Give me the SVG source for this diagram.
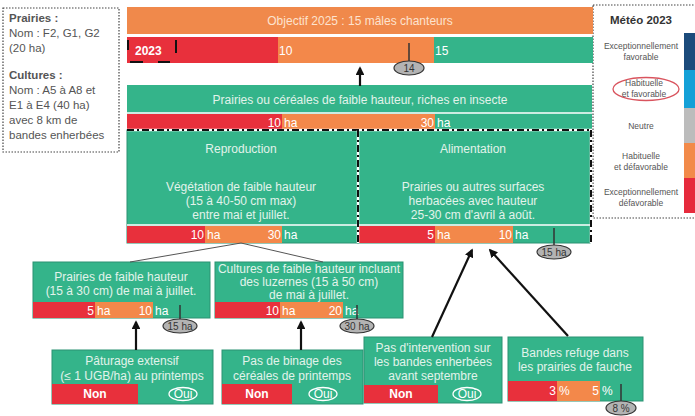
<svg xmlns="http://www.w3.org/2000/svg" width="695" height="416" viewBox="0 0 695 416">
<defs>
<marker id="ah" viewBox="0 0 10 10" refX="8" refY="5" markerWidth="4" markerHeight="4" orient="auto-start-reverse">
<path d="M0,0 L10,5 L0,10 z" fill="#111"/>
</marker>
</defs>
<style>
text{font-family:"Liberation Sans",Arial,sans-serif}
.lt{fill:#e2f3eb;font-size:12px}
.w{fill:#fff;font-size:12px}
.g{fill:#34b48a}
.bx{fill:#34b48a;stroke:#2a9272;stroke-width:1}
.o{fill:#f3884a}
.r{fill:#e8303c}
.sep{stroke:#fff;stroke-width:1.5}
.pill{fill:#b3b3b3;stroke:#333;stroke-width:1.2}
.pt{font-size:10px;fill:#333;text-anchor:middle}
.tick{stroke:#333;stroke-width:1.5}
.oui{fill:none;stroke:#fff;stroke-width:1.3}
.arr{stroke:#111;stroke-width:2.2;fill:none;marker-end:url(#ah)}
.thin{stroke:#555;stroke-width:1}
.dd{stroke:#111;stroke-width:2;stroke-dasharray:7 3 2 3;fill:none}
.ddw{stroke:#fff;stroke-width:2.5;fill:none}
.m{text-anchor:middle}
.e{text-anchor:end}
.lg{font-size:8.5px;fill:#555;text-anchor:middle}
.lb{font-size:11.5px;fill:#555}
</style>

<g id="info">
<rect x="3" y="8" width="116" height="144" fill="#fff" stroke="#444" stroke-width="1.2" stroke-dasharray="1.5 1.5"/>
<text x="9" y="22" class="lb" font-weight="bold">Prairies :</text>
<text x="9" y="37" class="lb">Nom : F2, G1, G2</text>
<text x="9" y="52" class="lb">(20 ha)</text>
<text x="9" y="79" class="lb" font-weight="bold">Cultures :</text>
<text x="9" y="94" class="lb">Nom : A5 à A8 et</text>
<text x="9" y="109" class="lb">E1 à E4 (40 ha)</text>
<text x="9" y="124" class="lb">avec 8 km de</text>
<text x="9" y="139" class="lb">bandes enherbées</text>
</g>

<g id="legende">
<rect x="593" y="5" width="106" height="213" fill="#fff" stroke="#444" stroke-width="1.2" stroke-dasharray="1.5 1.5"/>
<text x="641" y="24" class="m" font-size="11.5" font-weight="bold" fill="#333">Météo 2023</text>
<rect x="684" y="33" width="11" height="37" fill="#1b4b7b"/>
<rect x="684" y="70" width="11" height="38" fill="#14a0d7"/>
<rect x="684" y="108" width="11" height="35" fill="#bcbcbc"/>
<rect x="684" y="143" width="11" height="35" fill="#f28a4a"/>
<rect x="684" y="178" width="11" height="35" fill="#e62a3c"/>
<text x="641" y="49" class="lg">Exceptionnellement</text>
<text x="641" y="60" class="lg">favorable</text>
<ellipse cx="646" cy="89" rx="33" ry="11.5" fill="none" stroke="#d9545e" stroke-width="1.3"/>
<text x="644" y="86" class="lg">Habituelle</text>
<text x="644" y="97" class="lg">et favorable</text>
<text x="641" y="129" class="lg">Neutre</text>
<text x="641" y="159" class="lg">Habituelle</text>
<text x="641" y="170" class="lg">et défavorable</text>
<text x="641" y="195" class="lg">Exceptionnellement</text>
<text x="641" y="206" class="lg">défavorable</text>
</g>

<g id="objectif">
<rect x="127" y="7" width="466" height="27" fill="#f0894b"/>
<text x="360" y="25" class="m" font-size="12" fill="#fde3cf">Objectif 2025 : 15 mâles chanteurs</text>
<rect x="127" y="37" width="151" height="26" class="r"/>
<rect x="278" y="37" width="156" height="26" class="o"/>
<rect x="434" y="37" width="159" height="26" class="g"/>
<text x="135" y="55" class="w" font-weight="bold">2023</text>
<text x="279" y="55" class="w">10</text>
<text x="435" y="55" class="w">15</text>
<line x1="128" y1="40" x2="128" y2="50" stroke="#111" stroke-width="2"/>
<line x1="176" y1="40" x2="176" y2="53" stroke="#111" stroke-width="2"/>
<line x1="130" y1="62" x2="143" y2="62" stroke="#111" stroke-width="2"/>
<line x1="158" y1="62" x2="170" y2="62" stroke="#111" stroke-width="2"/>
<line x1="409" y1="43" x2="409" y2="61" class="tick"/>
<ellipse cx="409" cy="68" rx="15" ry="7" class="pill"/>
<text x="409" y="72" class="pt">14</text>
</g>

<g id="prairies-cereales">
<rect x="127" y="85" width="465" height="45" class="g"/>
<text x="360" y="104" class="lt m" font-size="11.5">Prairies ou céréales de faible hauteur, riches en insecte</text>
<line x1="127" y1="113" x2="592" y2="113" class="sep"/>
<rect x="127" y="114" width="155" height="16" class="r"/>
<rect x="282" y="114" width="153" height="16" class="o"/>
<text x="281" y="127" class="w e">10</text>
<text x="284" y="127" class="w">ha</text>
<text x="434" y="127" class="w e">30</text>
<text x="437" y="127" class="w">ha</text>
</g>

<g id="reproduction">
<rect x="127" y="130" width="231" height="113" class="bx"/>
<text x="241" y="153" class="lt m">Reproduction</text>
<text x="241" y="191" class="lt m">Végétation de faible hauteur</text>
<text x="241" y="205" class="lt m">(15 à 40-50 cm max)</text>
<text x="241" y="219" class="lt m">entre mai et juillet.</text>
<line x1="127" y1="225" x2="358" y2="225" class="sep"/>
<rect x="127" y="226" width="78" height="17" class="r"/>
<rect x="205" y="226" width="77" height="17" class="o"/>
<text x="204" y="239" class="w e">10</text>
<text x="207" y="239" class="w">ha</text>
<text x="281" y="239" class="w e">30</text>
<text x="284" y="239" class="w">ha</text>
</g>

<g id="alimentation">
<rect x="358" y="130" width="232" height="113" class="bx"/>
<text x="473" y="153" class="lt m">Alimentation</text>
<text x="473" y="191" class="lt m">Prairies ou autres surfaces</text>
<text x="473" y="205" class="lt m">herbacées avec hauteur</text>
<text x="473" y="219" class="lt m">25-30 cm d'avril à août.</text>
<line x1="358" y1="225" x2="590" y2="225" class="sep"/>
<rect x="358" y="226" width="77" height="17" class="r"/>
<rect x="435" y="226" width="78" height="17" class="o"/>
<text x="434" y="239" class="w e">5</text>
<text x="437" y="239" class="w">ha</text>
<text x="512" y="239" class="w e">10</text>
<text x="515" y="239" class="w">ha</text>
<line x1="554" y1="228" x2="554" y2="245" class="tick"/>
<ellipse cx="554" cy="252" rx="17" ry="7" class="pill"/>
<text x="554" y="256" class="pt">15 ha</text>
</g>

<g id="limites">
<line x1="127" y1="130" x2="592" y2="130" class="ddw"/>
<line x1="127" y1="130" x2="592" y2="130" class="dd"/>
<line x1="358" y1="130" x2="358" y2="243" class="ddw"/>
<line x1="358" y1="130" x2="358" y2="243" class="dd"/>
<line x1="591" y1="130" x2="591" y2="243" class="ddw"/>
<line x1="591" y1="130" x2="591" y2="243" class="dd"/>
</g>

<g id="prairies-faible">
<rect x="33" y="262" width="177" height="56" class="bx"/>
<text x="121" y="281" class="lt m" font-size="11.5">Prairies de faible hauteur</text>
<text x="121" y="295" class="lt m" font-size="11.5">(15 à 30 cm) de mai à juillet.</text>
<rect x="33" y="302" width="62" height="16" class="r"/>
<rect x="95" y="302" width="58" height="16" class="o"/>
<text x="94" y="315" class="w e">5</text>
<text x="97" y="315" class="w">ha</text>
<text x="152" y="315" class="w e">10</text>
<text x="155" y="315" class="w">ha</text>
<line x1="180" y1="305" x2="180" y2="320" class="tick"/>
<ellipse cx="180" cy="326" rx="17" ry="7" class="pill"/>
<text x="180" y="330" class="pt">15 ha</text>
</g>

<g id="cultures-faible">
<rect x="215" y="262" width="188" height="56" class="bx"/>
<text x="309" y="273" class="lt m" font-size="10">Cultures de faible hauteur incluant</text>
<text x="309" y="286" class="lt m" font-size="10">des luzernes (15 à 50 cm)</text>
<text x="309" y="299" class="lt m" font-size="10">de mai à juillet.</text>
<rect x="215" y="302" width="65" height="16" class="r"/>
<rect x="280" y="302" width="63" height="16" class="o"/>
<text x="279" y="315" class="w e">10</text>
<text x="282" y="315" class="w">ha</text>
<text x="342" y="315" class="w e">20</text>
<text x="345" y="315" class="w">ha</text>
<line x1="357" y1="305" x2="357" y2="320" class="tick"/>
<ellipse cx="357" cy="326" rx="17" ry="7" class="pill"/>
<text x="357" y="330" class="pt">30 ha</text>
</g>

<g id="paturage">
<rect x="52" y="350" width="161" height="54" class="bx"/>
<text x="132" y="365" class="lt m" font-size="11.5">Pâturage extensif</text>
<text x="132" y="380" class="lt m" font-size="11.5">(≤ 1 UGB/ha) au printemps</text>
<rect x="52" y="384" width="86" height="20" class="r"/>
<text x="95" y="398" class="w m" font-weight="bold">Non</text>
<ellipse cx="183" cy="394" rx="14" ry="6.5" class="oui"/>
<text x="183" y="398" class="w m" font-size="11">Oui</text>
</g>

<g id="binage">
<rect x="222" y="350" width="141" height="54" class="bx"/>
<text x="292" y="365" class="lt m" font-size="11.5">Pas de binage des</text>
<text x="292" y="380" class="lt m" font-size="11.5">céréales de printemps</text>
<rect x="222" y="384" width="70" height="20" class="r"/>
<text x="257" y="398" class="w m" font-weight="bold">Non</text>
<ellipse cx="323" cy="394" rx="14" ry="6.5" class="oui"/>
<text x="323" y="398" class="w m" font-size="11">Oui</text>
</g>

<g id="intervention">
<rect x="364" y="337" width="138" height="66" class="bx"/>
<text x="433" y="352" class="lt m" font-size="11.5">Pas d'intervention sur</text>
<text x="433" y="366" class="lt m" font-size="11.5">les bandes enherbées</text>
<text x="433" y="380" class="lt m" font-size="11.5">avant septembre</text>
<rect x="364" y="385" width="74" height="18" class="r"/>
<text x="401" y="398" class="w m" font-weight="bold">Non</text>
<ellipse cx="467" cy="394" rx="14" ry="6.5" class="oui"/>
<text x="467" y="398" class="w m" font-size="11">Oui</text>
</g>

<g id="bandes-refuge">
<rect x="508" y="337" width="135" height="64" class="bx"/>
<text x="575" y="357" class="lt m" font-size="11.5">Bandes refuge dans</text>
<text x="575" y="371" class="lt m" font-size="11.5">les prairies de fauche</text>
<rect x="508" y="381" width="49" height="20" class="r"/>
<rect x="557" y="381" width="43" height="20" class="o"/>
<text x="556" y="395" class="w e">3</text>
<text x="559" y="395" class="w">%</text>
<text x="599" y="395" class="w e">5</text>
<text x="602" y="395" class="w">%</text>
<line x1="621" y1="384" x2="621" y2="402" class="tick"/>
<ellipse cx="621" cy="408" rx="15" ry="7" class="pill"/>
<text x="621" y="412" class="pt">8 %</text>
</g>

<g id="connecteurs">
<line x1="360" y1="86" x2="360" y2="68" class="arr"/>
<line x1="241" y1="243" x2="130" y2="262" class="thin"/>
<line x1="241" y1="243" x2="323" y2="262" class="thin"/>
<line x1="136" y1="350" x2="136" y2="322" class="arr"/>
<line x1="301" y1="350" x2="301" y2="322" class="arr"/>
<line x1="432" y1="337" x2="472" y2="250" class="arr"/>
<line x1="568" y1="336" x2="490" y2="250" class="arr"/>
</g>
</svg>
